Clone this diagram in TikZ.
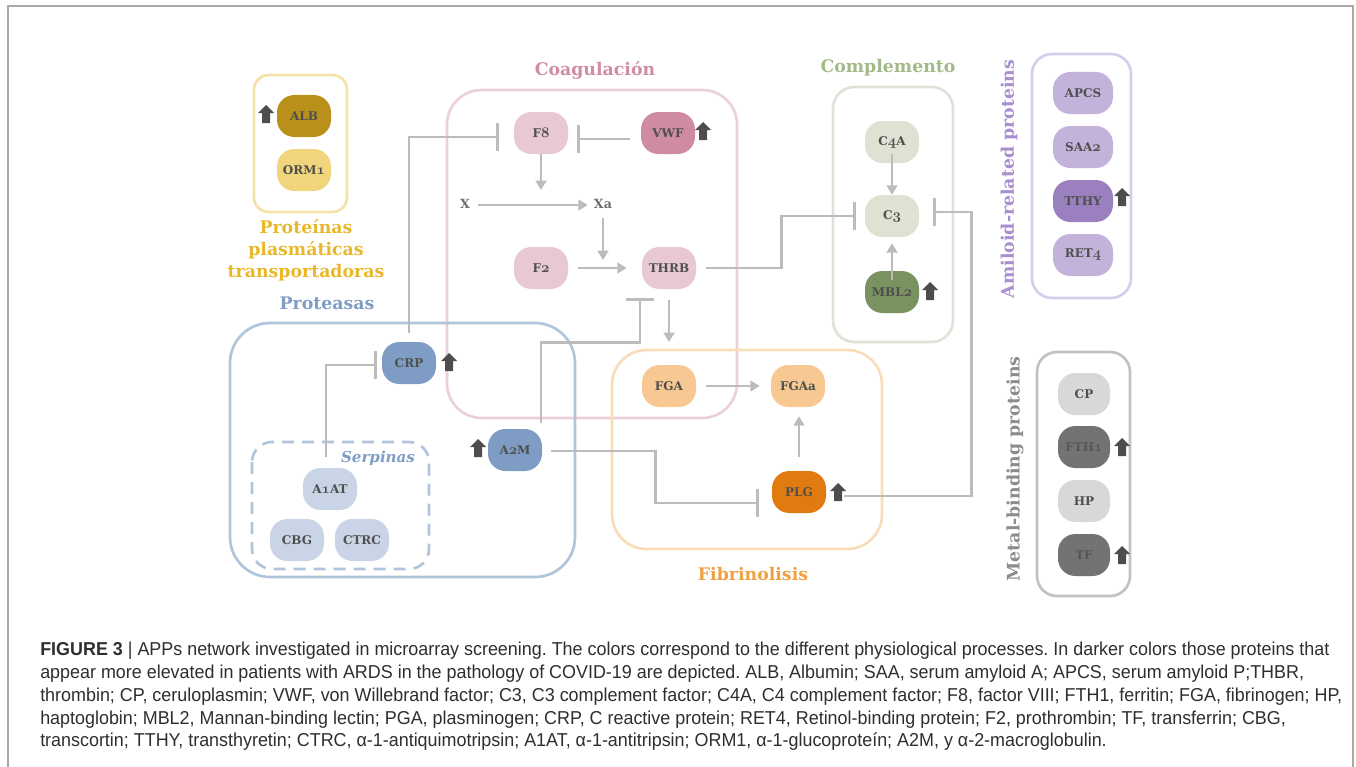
\documentclass[tikz,border=0pt]{standalone}
\usepackage{fontspec}
\usetikzlibrary{arrows.meta,calc}
\newfontfamily\capfont[FakeStretch=0.96]{Liberation Sans}
\newfontfamily\dfont{DejaVu Serif}
\newcommand\osn[1]{{\fontsize{11}{10}\usefont{OML}{cmm}{b}{it}#1}}
\frenchspacing
\definecolor{conn}{HTML}{BCBCBC}
\definecolor{ntext}{HTML}{4F4F4F}
\definecolor{bdg}{HTML}{4D4D4D}
\definecolor{frame}{HTML}{A8A8A8}
\definecolor{captxt}{HTML}{2E2E2E}
% plasma
\definecolor{pbox}{HTML}{F6E2A6}
\definecolor{albc}{HTML}{B8901A}
\definecolor{ormc}{HTML}{F0D57C}
\definecolor{ptit}{HTML}{E8B82A}
% coag
\definecolor{cbox}{HTML}{EBD0DA}
\definecolor{coagl}{HTML}{E8C8D3}
\definecolor{vwfc}{HTML}{CF8CA0}
\definecolor{ctit}{HTML}{D08CA0}
\definecolor{lblc}{HTML}{6E6E6E}
% complement
\definecolor{gbox}{HTML}{DFE2D6}
\definecolor{compl}{HTML}{DDE2D3}
\definecolor{mblc}{HTML}{7A9160}
\definecolor{gtit}{HTML}{A2BA88}
% amiloid
\definecolor{abox}{HTML}{D6CDEA}
\definecolor{amil}{HTML}{C3B3DB}
\definecolor{tthyc}{HTML}{9B80C0}
\definecolor{atit}{HTML}{A78FD0}
% metal
\definecolor{mbox}{HTML}{C2C2C2}
\definecolor{metl}{HTML}{D8D8D8}
\definecolor{metd}{HTML}{737373}
\definecolor{mtit}{HTML}{8C8C8C}
% proteasas
\definecolor{bbox}{HTML}{B0C4DC}
\definecolor{protd}{HTML}{7F9DC4}
\definecolor{serp}{HTML}{C9D5E7}
% fibrin
\definecolor{fbox}{HTML}{F9DCB8}
\definecolor{fgac}{HTML}{F7C891}
\definecolor{plgc}{HTML}{E07B10}
\definecolor{ftit}{HTML}{F0A040}
\tikzset{
  prot/.style={rectangle, rounded corners=13pt, minimum width=40.5pt, minimum height=31.5pt,
    inner sep=0pt, text=ntext, font=\dfont\fontsize{9}{10}\selectfont\bfseries},
  badge/.style={rectangle, inner sep=0pt, minimum width=12pt, minimum height=13.5pt,
    path picture={\fill[bdg, shift={(path picture bounding box.center)}]
      (0pt,6.75pt) -- (6pt,0.75pt) -- (3pt,0.75pt) -- (3pt,-6.75pt) -- (-3pt,-6.75pt)
      -- (-3pt,0.75pt) -- (-6pt,0.75pt) -- cycle;}},
  ttl/.style={font=\dfont\fontsize{13}{16.5}\selectfont\bfseries, inner sep=0pt},
  lbl/.style={font=\dfont\fontsize{9.5}{12}\selectfont\bfseries, text=lblc, inner sep=2pt},
  grpbox/.style={line width=2pt},
  cn/.style={draw=conn, line width=2.1pt},
  act/.style={cn, -{Triangle[length=7pt,width=8pt]}},
  inh/.style={cn, -{Bar[width=21pt]}},
}
\begin{document}
\begin{tikzpicture}[x=0.75pt,y=-0.75pt]
\useasboundingbox (0,0) rectangle (1356,767);
% frame
\draw[draw=frame, line width=1.2pt] (8,767) -- (8,6) -- (1353,6) -- (1353,767);

% group boxes
\draw[grpbox, draw=pbox, rounded corners=11pt] (254,75) rectangle (347,212);
\draw[grpbox, draw=cbox, rounded corners=26pt] (447,90) rectangle (737,418);
\draw[grpbox, draw=gbox, rounded corners=16pt] (833,87) rectangle (953,342);
\draw[grpbox, draw=abox, rounded corners=15pt] (1032,54) rectangle (1131,298);
\draw[grpbox, draw=mbox, rounded corners=15pt] (1037,352) rectangle (1130,596);
\draw[grpbox, draw=bbox, rounded corners=30pt] (230,323) rectangle (575,577);
\draw[grpbox, draw=bbox, rounded corners=15pt, dash pattern=on 9pt off 6pt] (252,442) rectangle (429,569);
\draw[grpbox, draw=fbox, rounded corners=26pt] (612,350) rectangle (882,549);

% titles
\node[ttl, text=ptit, align=center] (ptitle) at (306,250) {Proteínas\\plasmáticas\\transportadoras};
\node[ttl, text=ctit] (ctitle) at (595,70) {Coagulación};
\node[ttl, text=gtit] (gtitle) at (888,68) {Complemento};
\node[ttl, text=protd] (btitle) at (327,303) {Proteasas};
\node[ttl, text=ftit] (ftitle) at (753,574) {Fibrinolisis};
\node[ttl, text=atit, rotate=90] (atitle) at (1009,179) {Amiloid-related proteins};
\node[ttl, text=mtit, rotate=90] (mtitle) at (1015,469) {Metal-binding proteins};
\node[font=\dfont\fontsize{11.3}{14}\selectfont\bfseries\itshape, text=protd, inner sep=0pt] (stitle) at (378,458) {Serpinas};

% nodes: plasma
\node[prot, fill=albc] (alb) at (304,116) {ALB};
\node[prot, fill=ormc] (orm1) at (304,170) {ORM\osn{1}};
\node[badge] (albup) at (266,114) {};
% coagulation
\node[prot, fill=coagl] (f8) at (541,133) {F\osn{8}};
\node[prot, fill=vwfc] (vwf) at (668,133) {VWF};
\node[badge] (vwfup) at (703,131) {};
\node[lbl] (x) at (465,204) {X};
\node[lbl] (xa) at (603,204) {Xa};
\node[prot, fill=coagl] (f2) at (541,268) {F\osn{2}};
\node[prot, fill=coagl] (thrb) at (669,268) {THRB};
\coordinate (fx) at (541,190);
\coordinate (xt) at (603,260);
\coordinate (fb) at (669,342);
% complement
\node[prot, fill=compl] (c4a) at (892,142) {C\osn{4}A};
\node[prot, fill=compl] (c3) at (892,216) {C\osn{3}};
\node[prot, fill=mblc] (mbl2) at (892,292) {MBL\osn{2}};
\node[badge] (mblup) at (930,291) {};
% amiloid
\node[prot, fill=amil, minimum width=45pt] (apcs) at (1083,93) {APCS};
\node[prot, fill=amil, minimum width=45pt] (saa2) at (1083,147) {SAA\osn{2}};
\node[prot, fill=tthyc, minimum width=45pt] (tthy) at (1083,201) {TTHY};
\node[prot, fill=amil, minimum width=45pt] (ret4) at (1083,255) {RET\osn{4}};
\node[badge] (tthyup) at (1122,197) {};
% metal
\node[prot, fill=metl, minimum width=39pt] (cp) at (1084,394) {CP};
\node[prot, fill=metd, minimum width=39pt, text=ntext!80!metd] (fth1) at (1084,447) {FTH\osn{1}};
\node[prot, fill=metl, minimum width=39pt] (hp) at (1084,501) {HP};
\node[prot, fill=metd, minimum width=39pt, text=ntext!80!metd] (tf) at (1084,555) {TF};
\node[badge] (fthup) at (1122,447) {};
\node[badge] (tfup) at (1122,555) {};
% proteasas
\node[prot, fill=protd] (crp) at (409,363) {CRP};
\node[badge] (crpup) at (449,362) {};
\node[prot, fill=protd] (a2m) at (515,450) {A\osn{2}M};
\node[badge] (a2mup) at (478,448) {};
\node[prot, fill=serp] (a1at) at (330,489) {A\osn{1}AT};
\node[prot, fill=serp] (cbg) at (297,540) {CBG};
\node[prot, fill=serp] (ctrc) at (362,540) {CTRC};
% fibrinolisis
\node[prot, fill=fgac] (fga) at (669,386) {FGA};
\node[prot, fill=fgac] (fgaa) at (798,386) {FGAa};
\node[prot, fill=plgc] (plg) at (799,492) {PLG};
\node[badge] (plgup) at (838,492) {};

% connectors
\draw[inh, shorten <=6.75pt, shorten >=11.25pt] (crp.north) |- ($(f8.west)+(0,4)$);
\draw[inh, shorten <=8.25pt, shorten >=6.75pt] ($(vwf.west)+(0,6)$) -- ($(f8.east)+(0,6)$);
\draw[act] (f8.south) -- (fx);
\draw[act, shorten <=4pt, shorten >=2.5pt] ($(x.east)+(0,1)$) -- ($(xa.west)+(0,1)$);
\draw[act, shorten <=4.5pt] (xa.south) -- (xt);
\draw[act, shorten <=7.5pt, shorten >=11.25pt] (f2) -- (thrb);
\draw[inh, shorten <=7.5pt, shorten >=6.75pt] (thrb.east) -- ++(85,0) |- (c3.west);
\draw[inh, shorten <=4.5pt, shorten >=6.75pt] ($(a2m.north)+(26,0)$) -- ++(0,-86) -| ($(thrb.south)+(-29,0)$);
\draw[act, shorten <=8.25pt] (thrb.south) -- (fb);
\draw[act, shorten <=7.5pt, shorten >=8.25pt] (fga) -- (fgaa);
\draw[act, shorten <=10.5pt, shorten >=6.75pt] (plg.north) -- (plg.north |- fgaa.south);
\draw[inh, shorten <=6.75pt, shorten >=9.75pt] ($(a2m.east)+(0,1)$) -- ++(113,0) |- ($(plg.west)+(0,11)$);
\draw[inh, shorten >=10.5pt] ($(plgup.center)+(6,4)$) -| ($(c3.east)+(52,-4)$) -- ($(c3.east)+(0,-4)$);
\draw[act] ($(c4a.south)+(0,-9)$) -- (c3.north);
\draw[act, shorten >=4.5pt] ($(mbl2.north)+(0,9)$) -- (c3.south);
\draw[inh, shorten >=3.75pt] ($(a1at.north)+(-4,-11)$) |- ($(crp.west)+(0,2)$);

% caption
\node[anchor=north west, align=left, inner sep=0pt, text=captxt,
  font=\capfont\fontsize{14}{17.06}\selectfont] (cap) at (40,642)
{{\bfseries FIGURE 3} | APPs network investigated in microarray screening. The colors correspond to the different physiological processes. In darker colors those proteins that\\
appear more elevated in patients with ARDS in the pathology of COVID-19 are depicted. ALB, Albumin; SAA, serum amyloid A; APCS, serum amyloid P;THBR,\\
thrombin; CP, ceruloplasmin; VWF, von Willebrand factor; C3, C3 complement factor; C4A, C4 complement factor; F8, factor VIII; FTH1, ferritin; FGA, fibrinogen; HP,\\
haptoglobin; MBL2, Mannan-binding lectin; PGA, plasminogen; CRP, C reactive protein; RET4, Retinol-binding protein; F2, prothrombin; TF, transferrin; CBG,\\
transcortin; TTHY, transthyretin; CTRC, α-1-antiquimotripsin; A1AT, α-1-antitripsin; ORM1, α-1-glucoproteín; A2M, y α-2-macroglobulin.};
\end{tikzpicture}
\end{document}
